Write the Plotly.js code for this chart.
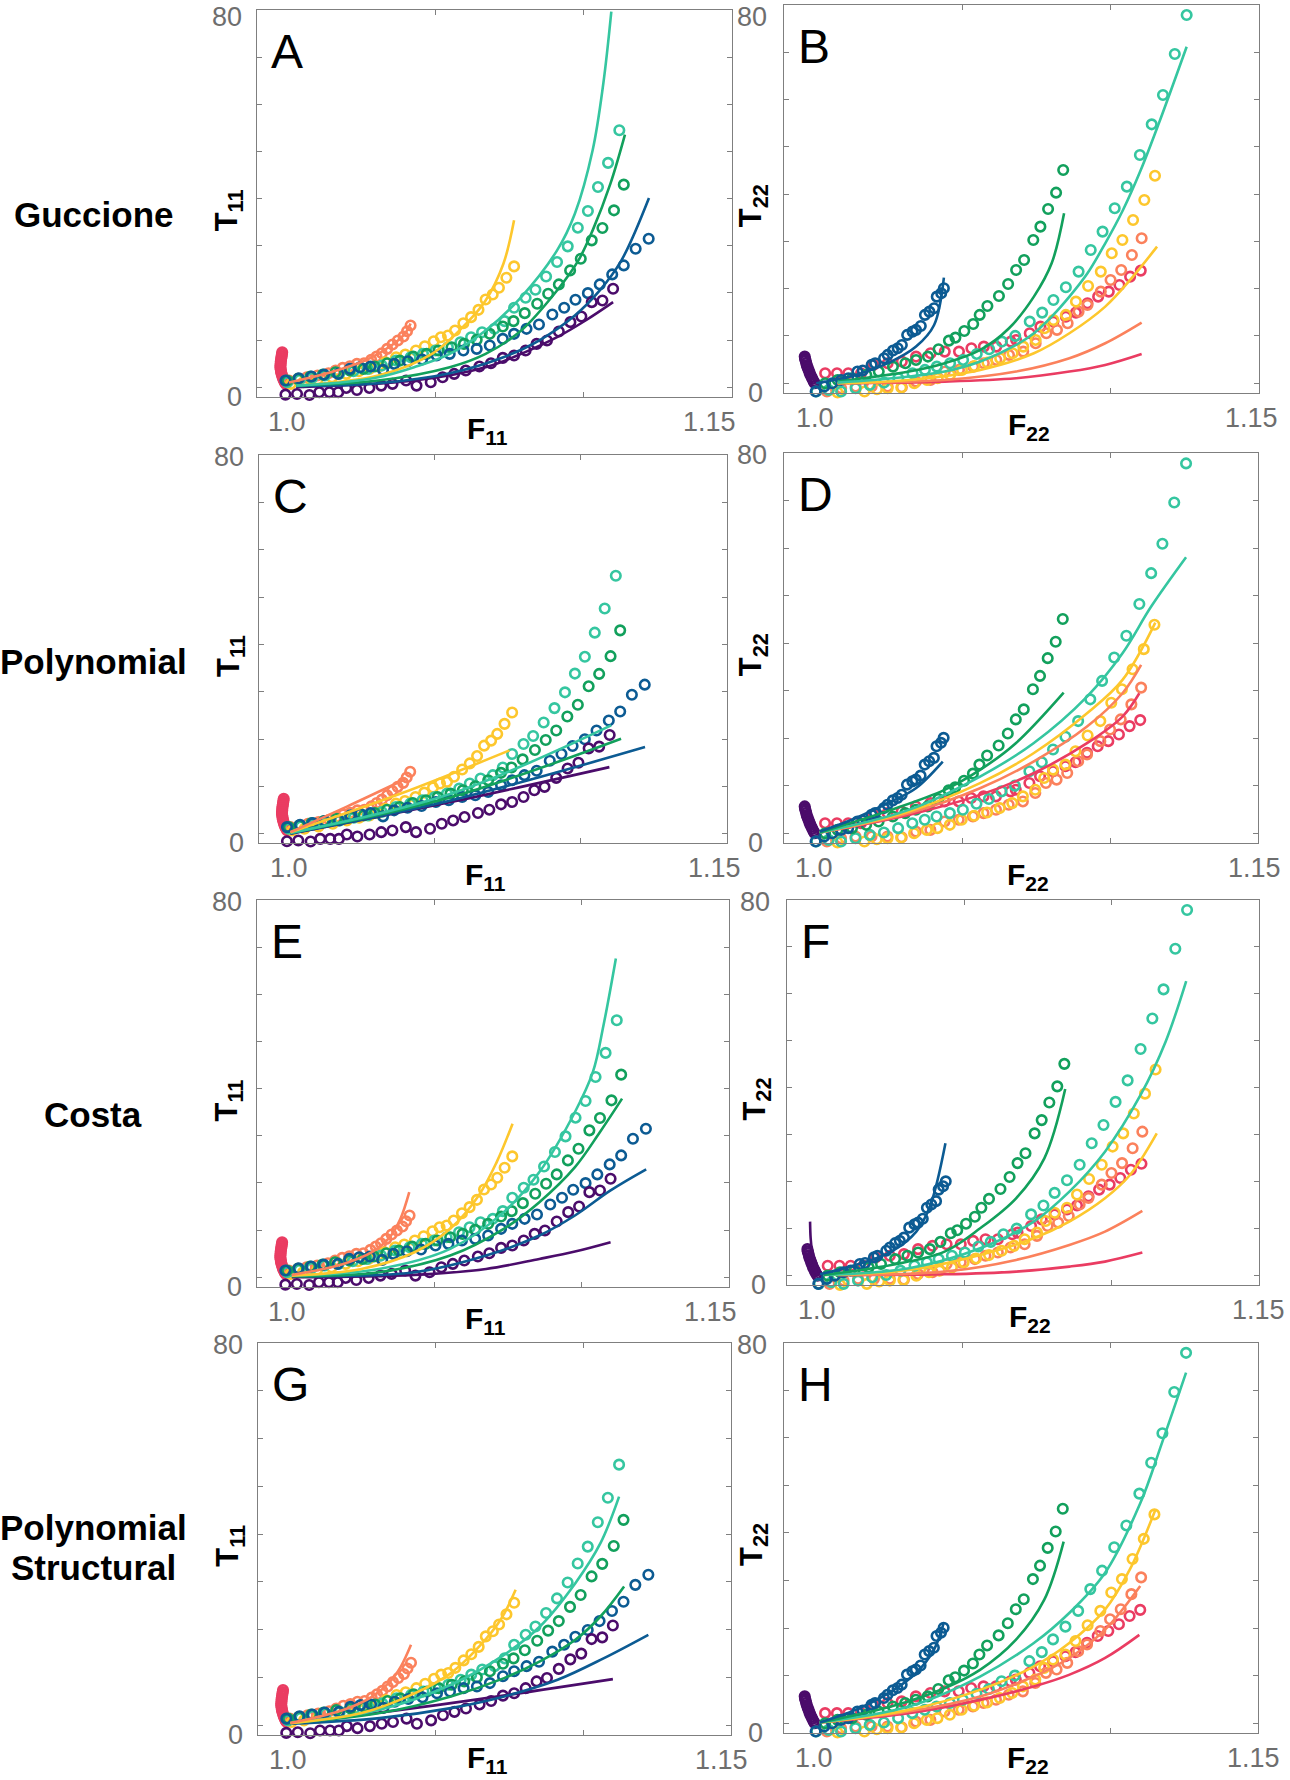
<!DOCTYPE html>
<html><head><meta charset="utf-8">
<script src="https://cdn.plot.ly/plotly-3.0.1.min.js"></script>
<style>html,body{margin:0;padding:0;background:#fff}#chart{width:1290px;height:1780px}</style>
</head><body><div id="chart"></div>
<script>
// ---------- colours ----------
const COL = {purple:'#4b0c6b', blue:'#0c5b93', green:'#12a05c', teal:'#35c6a0', yellow:'#fdc72d', salmon:'#fb815c', red:'#ea3c62'};

// ---------- experimental data, T11 vs F11 (same in A, C, E, G) ----------
const T11_red_F = [0.9983,0.9982,0.9981,0.998,0.9979,0.9978,0.9978,0.9977,0.9977,0.9978,0.9979,0.998,0.9982,0.9984,0.9986,0.9989,0.9992,0.9995];
const T11_red_T = [7.4,7.0,6.6,6.2,5.8,5.4,5.0,4.6,4.2,3.8,3.4,3.0,2.6,2.2,1.8,1.4,1.0,0.7];
const T11_salmon_F = [1.0006,1.0036,1.0066,1.0102,1.0139,1.0163,1.0187,1.0211,1.0235,1.0259,1.0283,1.0301,1.0319,1.0337,1.0355,1.0373,1.0392,1.0404,1.0416];
const T11_salmon_T = [1.42,1.77,2.12,2.48,2.97,3.54,4.11,4.46,4.96,5.10,5.81,6.51,7.22,8.14,9.06,9.91,10.76,11.89,13.10];
const T11_yellow_F = [1.0012,1.0054,1.0102,1.0151,1.0199,1.0241,1.0277,1.0307,1.0331,1.0367,1.0398,1.0434,1.0464,1.0494,1.0518,1.0542,1.0566,1.0594,1.062,1.0645,1.0669,1.0693,1.0714,1.0739,1.0765];
const T11_yellow_T = [0.71,1.06,1.56,2.12,2.83,3.40,3.89,4.39,5.31,6.37,6.94,7.79,8.71,9.77,10.62,10.97,12.04,13.59,14.87,16.42,18.62,19.68,21.10,23.22,25.63];
const T11_teal_F = [1.0,1.0042,1.0084,1.0127,1.0175,1.0223,1.0271,1.0319,1.0367,1.0416,1.0458,1.05,1.0542,1.0584,1.062,1.0657,1.0699,1.0733,1.0765,1.0804,1.0837,1.0873,1.091,1.0946,1.098,1.1014,1.1048,1.1082,1.112];
const T11_teal_T = [1.06,1.56,1.98,2.48,2.83,3.40,3.89,4.60,5.66,6.37,7.08,7.79,8.50,9.56,10.62,11.68,12.39,14.02,16.85,18.97,20.67,23.50,26.55,29.88,33.84,37.38,42.48,47.58,54.51];
const T11_green_F = [1.0,1.0036,1.0078,1.012,1.0163,1.0211,1.0257,1.0295,1.0337,1.038,1.0425,1.047,1.051,1.0554,1.0596,1.0639,1.0683,1.0727,1.0763,1.0801,1.0843,1.088,1.0916,1.0954,1.099,1.1027,1.1063,1.1102,1.1135];
const T11_green_T = [1.42,1.77,2.27,2.69,3.19,3.54,3.89,4.39,5.10,5.66,6.51,7.08,7.79,8.50,9.20,10.05,11.33,12.88,14.02,15.72,17.70,19.82,21.81,24.78,27.26,31.15,33.77,37.52,42.97];
const T11_blue_F = [0.9994,1.0039,1.0082,1.0124,1.0172,1.0211,1.0245,1.0281,1.0323,1.0361,1.0407,1.0455,1.0504,1.0548,1.0594,1.0639,1.0683,1.0727,1.0765,1.0807,1.0849,1.0894,1.0934,1.0972,1.1014,1.1054,1.1096,1.1135,1.1175,1.1219];
const T11_blue_T = [1.42,1.91,2.27,2.69,2.83,3.89,4.25,4.39,3.68,4.96,5.52,5.88,6.73,7.08,7.79,8.14,8.85,10.27,11.33,12.39,13.31,15.43,16.85,18.55,19.96,21.81,23.93,25.84,29.38,31.50];
const T11_purple_F = [0.9994,1.0033,1.0075,1.0108,1.0142,1.0172,1.0199,1.0235,1.0277,1.0317,1.0355,1.0401,1.0436,1.0484,1.0524,1.0563,1.0602,1.0648,1.0687,1.0727,1.0765,1.0804,1.0841,1.0876,1.0916,1.0955,1.0992,1.1027,1.1063,1.1099];
const T11_purple_T = [-1.56,-1.42,-1.63,-1.06,-1.06,-1.06,-0.14,-0.57,-0.14,0.35,0.71,1.42,0.35,1.06,2.12,2.83,3.54,4.39,5.10,6.23,6.73,7.79,9.20,9.91,11.82,13.81,15.01,18.05,18.41,20.88];

// ---------- experimental data, T22 vs F22 (same in B, D, F, H) ----------
const T22_purple_F = [0.9967,0.9968,0.997,0.9972,0.9974,0.9977,0.998,0.9983,0.9986,0.999,0.9993,0.9997,1.0001];
const T22_purple_T = [5.64,5.2,4.8,4.3,3.8,3.3,2.8,2.3,1.8,1.3,0.9,0.4,0.0];
const T22_red_F = [1.0036,1.0076,1.0114,1.0157,1.0199,1.0247,1.0295,1.0343,1.0392,1.044,1.0488,1.053,1.0572,1.0614,1.0663,1.0681,1.0727,1.0763,1.0807,1.0849,1.0883,1.0922,1.0958,1.0994,1.103,1.1066,1.1102];
const T22_red_T = [2.11,2.11,2.11,2.11,3.88,4.23,4.58,5.64,6.34,6.69,6.69,7.40,7.75,7.75,8.81,9.16,10.57,11.98,13.04,14.09,14.94,16.91,18.32,19.38,20.79,22.55,23.82];
const T22_salmon_F = [1.0042,1.009,1.0139,1.0193,1.0247,1.0295,1.0343,1.0392,1.044,1.0488,1.0536,1.0572,1.0614,1.0657,1.0705,1.0747,1.0783,1.0819,1.0855,1.0892,1.0922,1.0967,1.1,1.1036,1.1072,1.1105];
const T22_salmon_T = [-1.76,-1.06,-0.70,-0.70,-0.70,-0.85,0.35,0.70,2.47,2.82,3.52,4.23,4.93,5.99,6.69,8.46,10.57,11.28,12.68,15.15,16.56,19.38,21.85,23.96,27.13,30.66];
const T22_yellow_F = [1.0036,1.0078,1.0124,1.0169,1.0211,1.0247,1.0293,1.0337,1.038,1.0416,1.0458,1.0498,1.054,1.0584,1.0627,1.0669,1.0705,1.0747,1.0777,1.0807,1.0849,1.0883,1.0924,1.0967,1.1004,1.104,1.1076,1.1114,1.115];
const T22_yellow_T = [-2.11,-1.97,-2.11,-1.76,-1.27,-1.06,-0.92,0,0.70,1.06,1.76,2.82,3.66,4.37,5.29,6.34,7.75,9.16,11.63,13.39,14.45,17.27,20.58,23.61,27.48,30.30,34.53,38.76,43.90];
const T22_teal_F = [1.0006,1.0048,1.009,1.0139,1.0187,1.0235,1.0283,1.0331,1.0373,1.0413,1.0458,1.0502,1.0548,1.059,1.0633,1.0678,1.0727,1.0769,1.0807,1.0849,1.0892,1.0933,1.0973,1.1014,1.1055,1.1099,1.1139,1.1177,1.1217,1.1257];
const T22_teal_T = [-1.76,-1.41,-1.76,-1.06,-0.35,0.14,1.06,2.11,2.82,3.52,4.23,4.93,6.20,7.19,8.81,10.01,13.04,14.94,17.62,20.30,23.61,28.19,32.07,37.0,41.58,48.27,54.76,60.96,69.63,77.87];
const T22_green_F = [1.0036,1.0078,1.0127,1.0175,1.0217,1.0265,1.0307,1.0343,1.0383,1.0419,1.0454,1.0476,1.0506,1.0536,1.0558,1.0584,1.0623,1.0654,1.0681,1.0708,1.0739,1.0763,1.0789,1.0816,1.084];
const T22_green_T = [0,0.70,1.06,1.76,2.47,3.52,4.23,4.93,5.64,7.19,9.02,9.65,11.06,12.54,14.45,16.35,18.46,21.0,23.96,26.07,30.30,33.12,36.86,40.31,45.10];
const T22_blue_F = [1.0004,1.0033,1.006,1.009,1.0114,1.0145,1.0163,1.0193,1.0205,1.0235,1.0247,1.0265,1.0281,1.0295,1.0313,1.0331,1.0343,1.0359,1.0373,1.0388,1.0404,1.0413,1.0428,1.0437];
const T22_blue_T = [-1.76,-0.70,0,0.70,1.06,2.47,2.68,3.88,4.23,5.29,5.99,6.91,7.40,8.10,10.22,10.92,11.28,12.12,14.45,15.15,15.86,18.32,19.03,20.08];

// ---------- model curves ----------
// A: Guccione, T11
const A_salmon_F = [1.0006,1.0163,1.0283,1.0392,1.0416], A_salmon_T = [1.0,3.5,6.3,11.0,13.5];
const A_yellow_F = [1.003,1.0307,1.0488,1.0608,1.0669,1.0729,1.0765], A_yellow_T = [0.35,2.48,7.08,13.8,18.41,26.2,35.4];
const A_teal_F = [1.003,1.0187,1.0307,1.0428,1.0548,1.0669,1.0789,1.091,1.097,1.103,1.1066,1.1093], A_teal_T = [0.35,1.06,2.12,4.25,7.08,12.04,19.12,29.03,36.81,50.27,64.42,79.65];
const A_green_F = [1.003,1.0307,1.0548,1.0669,1.0789,1.091,1.0982,1.103,1.109,1.1139], A_green_T = [0.35,1.42,4.25,7.08,12.04,20.53,26.90,33.27,43.19,53.59];
const A_blue_F = [1.003,1.0307,1.0548,1.0729,1.0849,1.097,1.1054,1.1127,1.122], A_blue_T = [0.21,0.85,2.97,6.37,9.91,15.22,20.53,26.90,40.14];
const A_purple_F = [1.003,1.0428,1.0669,1.0789,1.091,1.1006,1.1099], A_purple_T = [0,1.42,4.25,7.08,10.62,14.16,18.05];
// B: Guccione, T22
const B_red_F = [1.0078,1.044,1.0681,1.0861,1.0982,1.1105], B_red_T = [0,0.35,1.06,2.47,3.88,6.20];
const B_salmon_F = [1.0078,1.044,1.0681,1.0861,1.0982,1.1105], B_salmon_T = [0,0.70,2.47,5.29,8.46,12.83];
const B_yellow_F = [1.0078,1.0319,1.056,1.0741,1.0861,1.0982,1.1066,1.1157], B_yellow_T = [0,0.7,2.82,6.34,10.57,16.21,21.85,28.89];
const B_teal_F = [1.0078,1.0199,1.0319,1.044,1.056,1.0681,1.0741,1.0801,1.0861,1.0922,1.0982,1.1042,1.1102,1.1163,1.1257], B_teal_T = [0.14,0.70,1.41,2.47,4.58,8.10,10.57,14.09,18.32,23.26,29.60,36.65,45.10,54.97,71.18];
const B_green_F = [1.0078,1.0319,1.044,1.056,1.0657,1.0741,1.0801,1.0843], B_green_T = [0.35,2.47,4.23,7.05,11.63,18.32,25.37,35.94];
const B_blue_F = [1.0006,1.0139,1.0259,1.0343,1.0404,1.0437], B_blue_T = [0,1.76,4.58,7.75,12.33,22.34];
// C: Polynomial, T11
const C_salmon_F = [1.0006,1.0201,1.0402], C_salmon_T = [0.35,5.8,11.63];
const C_yellow_F = [1.0006,1.0384,1.0756], C_yellow_T = [0.35,8.5,17.62];
const C_teal_F = [1.0006,1.0555,1.1104], C_teal_T = [0.2,8.46,22.9];
const C_green_F = [1.0006,1.0555,1.1138], C_green_T = [0.2,7.75,20.08];
const C_blue_F = [1.0006,1.0555,1.122], C_blue_T = [0.1,7.05,18.32];
const C_purple_F = [1.0006,1.0555,1.1098], C_purple_T = [0.0,6.7,14.09];
// D: Polynomial, T22
const D_red_F = [1.0018,1.0319,1.056,1.0741,1.0922,1.1042,1.1099], D_red_T = [0.14,3.86,8.07,12.63,18.95,24.56,29.47];
const D_salmon_F = [1.0018,1.0319,1.056,1.0741,1.0922,1.1042,1.1105], D_salmon_T = [0.14,4.21,9.47,15.09,22.46,29.47,35.44];
const D_yellow_F = [1.0018,1.0319,1.056,1.0741,1.0922,1.1042,1.1153], D_yellow_T = [0.14,4.56,10.53,16.84,25.26,32.28,44.35];
const D_teal_F = [1.0018,1.0319,1.056,1.0741,1.0922,1.1042,1.1139,1.1257], D_teal_T = [0.14,4.91,11.93,18.95,28.77,37.89,47.72,58.1];
const D_green_F = [1.0018,1.0259,1.044,1.056,1.0681,1.0843], D_green_T = [0.14,4.91,9.12,13.33,18.95,29.61];
const D_blue_F = [1.0018,1.0139,1.0259,1.0343,1.0434], D_blue_T = [0.35,3.16,6.67,9.47,15.09];
// E: Costa, T11
const E_salmon_F = [1.0016,1.0191,1.0288,1.0349,1.0385,1.0415], E_salmon_T = [0.50,2.83,5.31,8.50,12.39,18.05];
const E_yellow_F = [1.0016,1.0252,1.0433,1.0554,1.0651,1.0712,1.0766], E_yellow_T = [0.35,1.77,5.31,10.27,17.35,24.42,32.57];
const E_teal_F = [1.0016,1.0312,1.0554,1.0736,1.0857,1.0978,1.1039,1.1075,1.1117], E_teal_T = [0.35,1.77,6.02,13.81,22.30,35.04,43.54,53.45,67.61];
const E_green_F = [1.0016,1.0312,1.0554,1.0736,1.0857,1.0978,1.1063,1.1138], E_green_T = [0.21,1.06,4.60,10.27,15.93,23.36,30.80,37.88];
const E_blue_F = [1.0016,1.0433,1.0676,1.0857,1.0978,1.1099,1.122], E_blue_T = [0.21,1.06,4.60,8.85,13.10,18.41,22.87];
const E_purple_F = [1.0016,1.0433,1.0676,1.0857,1.0978,1.1099], E_purple_T = [0,0.5,1.77,3.89,5.45,7.43];
// F: Costa, T22
const F_purple_F = [0.9976,0.9978,0.9983,0.9992,1.0], F_purple_T = [11.5,7.95,5.11,2.27,0.14];
const F_red_F = [1.007,1.0433,1.0676,1.0857,1.0978,1.1105], F_red_T = [0.14,0.28,0.85,1.92,2.98,4.90];
const F_salmon_F = [1.007,1.0433,1.0676,1.0857,1.0978,1.1105], F_salmon_T = [0.14,0.85,3.34,6.53,9.37,13.77];
const F_yellow_F = [1.0022,1.0312,1.0554,1.0736,1.0857,1.0978,1.1063,1.1154], F_yellow_T = [0.14,1.21,4.40,7.95,11.50,16.47,21.43,30.30];
const F_teal_F = [1.0022,1.0312,1.0554,1.0736,1.0857,1.0978,1.1099,1.1184,1.1254], F_teal_T = [0.14,1.56,5.82,11.50,17.89,26.40,38.47,49.82,62.74];
const F_green_F = [1.0022,1.0252,1.0433,1.0554,1.0676,1.0772,1.0843], F_green_T = [0.14,2.27,5.11,10.08,16.47,24.98,39.74];
const F_blue_F = [1.001,1.0131,1.0252,1.0337,1.0385,1.0436], F_blue_T = [0.28,2.27,5.11,9.37,15.05,28.18];
// G: Polynomial Structural, T11
const G_salmon_F = [1.0008,1.0189,1.0286,1.0346,1.0382,1.0416], G_salmon_T = [0.49,3.27,6.06,9.19,12.33,16.85];
const G_yellow_F = [1.0008,1.0249,1.043,1.0551,1.0647,1.0719,1.077], G_yellow_T = [0.49,2.58,6.75,10.93,16.50,22.08,28.34];
const G_teal_F = [1.0008,1.031,1.0551,1.0731,1.0852,1.0972,1.1057,1.112], G_teal_T = [0.49,3.27,8.50,14.76,20.68,29.74,38.09,47.84];
const G_green_F = [1.0008,1.031,1.0551,1.0731,1.0852,1.0972,1.1057,1.1137], G_green_T = [0.49,2.58,6.06,9.89,13.37,17.90,22.77,29.04];
const G_blue_F = [1.0008,1.031,1.0551,1.0731,1.0912,1.1069,1.1219], G_blue_T = [0.35,1.53,3.62,6.06,9.54,14.07,18.94];
const G_purple_F = [1.0008,1.0551,1.1099], G_purple_T = [0.35,4.67,9.68];
// H: Polynomial Structural, T22
const H_red_F = [1.0018,1.0319,1.056,1.0741,1.0861,1.0982,1.1099], H_red_T = [0.14,2.10,4.90,7.71,10.16,13.66,18.56];
const H_salmon_F = [1.0018,1.0319,1.056,1.0741,1.0861,1.0982,1.1102], H_salmon_T = [0.14,2.45,5.60,9.81,13.66,19.61,28.86];
const H_yellow_F = [1.0018,1.0319,1.056,1.0741,1.0861,1.0982,1.1066,1.1153], H_yellow_T = [0.14,2.80,7.01,11.91,16.81,23.82,32.22,44.83];
const H_teal_F = [1.0018,1.0319,1.056,1.0741,1.0861,1.0982,1.1102,1.1175,1.1257], H_teal_T = [0.14,3.50,9.81,16.81,23.12,31.52,46.23,58.84,73.70];
const H_green_F = [1.0018,1.0259,1.044,1.056,1.0681,1.0777,1.0843], H_green_T = [0.14,3.50,7.36,11.21,17.51,25.92,38.18];
const H_blue_F = [1.0018,1.0139,1.0259,1.0343,1.0404,1.0437], H_blue_T = [0.14,2.80,6.65,10.51,15.41,21.02];

// ---------- labels ----------
const panelLetters = ['A','B','C','D','E','F','G','H'];
const rowLabels = [['Guccione'],['Polynomial'],['Costa'],['Polynomial','Structural']];
const yTickLabels = ['0','80'];
const xTickLabels = ['1.0','1.15'];

// ---------- assemble ----------
const expT11 = [['red',T11_red_F,T11_red_T],['salmon',T11_salmon_F,T11_salmon_T],['yellow',T11_yellow_F,T11_yellow_T],['teal',T11_teal_F,T11_teal_T],['green',T11_green_F,T11_green_T],['blue',T11_blue_F,T11_blue_T],['purple',T11_purple_F,T11_purple_T]];
const expT22 = [['purple',T22_purple_F,T22_purple_T],['red',T22_red_F,T22_red_T],['salmon',T22_salmon_F,T22_salmon_T],['yellow',T22_yellow_F,T22_yellow_T],['teal',T22_teal_F,T22_teal_T],['green',T22_green_F,T22_green_T],['blue',T22_blue_F,T22_blue_T]];
const models = [
  [['salmon',A_salmon_F,A_salmon_T],['yellow',A_yellow_F,A_yellow_T],['purple',A_purple_F,A_purple_T],['blue',A_blue_F,A_blue_T],['green',A_green_F,A_green_T],['teal',A_teal_F,A_teal_T]],
  [['red',B_red_F,B_red_T],['salmon',B_salmon_F,B_salmon_T],['yellow',B_yellow_F,B_yellow_T],['blue',B_blue_F,B_blue_T],['green',B_green_F,B_green_T],['teal',B_teal_F,B_teal_T]],
  [['purple',C_purple_F,C_purple_T],['blue',C_blue_F,C_blue_T],['green',C_green_F,C_green_T],['teal',C_teal_F,C_teal_T],['yellow',C_yellow_F,C_yellow_T],['salmon',C_salmon_F,C_salmon_T]],
  [['red',D_red_F,D_red_T],['salmon',D_salmon_F,D_salmon_T],['yellow',D_yellow_F,D_yellow_T],['teal',D_teal_F,D_teal_T],['green',D_green_F,D_green_T],['blue',D_blue_F,D_blue_T]],
  [['purple',E_purple_F,E_purple_T],['blue',E_blue_F,E_blue_T],['green',E_green_F,E_green_T],['teal',E_teal_F,E_teal_T],['yellow',E_yellow_F,E_yellow_T],['salmon',E_salmon_F,E_salmon_T]],
  [['purple',F_purple_F,F_purple_T],['red',F_red_F,F_red_T],['salmon',F_salmon_F,F_salmon_T],['yellow',F_yellow_F,F_yellow_T],['teal',F_teal_F,F_teal_T],['green',F_green_F,F_green_T],['blue',F_blue_F,F_blue_T]],
  [['purple',G_purple_F,G_purple_T],['blue',G_blue_F,G_blue_T],['green',G_green_F,G_green_T],['teal',G_teal_F,G_teal_T],['yellow',G_yellow_F,G_yellow_T],['salmon',G_salmon_F,G_salmon_T]],
  [['red',H_red_F,H_red_T],['salmon',H_salmon_F,H_salmon_T],['yellow',H_yellow_F,H_yellow_T],['teal',H_teal_F,H_teal_T],['green',H_green_F,H_green_T],['blue',H_blue_F,H_blue_T]]
];

// panel frames in page pixels: [left, right, top, bottom]
const W = 1290, H = 1780;
const boxes = [[257,732,10,396.7],[784.3,1258.6,5,392.7],[258.9,726.8,455,843.3],[784.3,1257.9,453.3,842.7],
               [257.1,728.6,900,1286.7],[787.1,1258.6,900,1285],[257.9,731.4,1342.7,1735],[784.3,1257.9,1342.7,1732.7]];
const x115shift = [6,21,16,25,10,28,19,24];

const FONT = 'Liberation Sans, Arial, sans-serif';
const GRAY = '#6e6e6e', FRAME = '#7f7f7f';
const traces = [];
const layout = {width:W, height:H, margin:{l:0,r:0,t:0,b:0}, paper_bgcolor:'#fff', plot_bgcolor:'#fff', showlegend:false, annotations:[]};

for (let i = 0; i < 8; i++) {
  const n = i + 1, sx = n === 1 ? '' : String(n);
  const xa = 'x' + sx, ya = 'y' + sx;
  const col = i % 2, row = Math.floor(i / 2);
  const [l, r, t, b] = boxes[i];
  const common = {showgrid:false, zeroline:false, showline:true, linecolor:FRAME, linewidth:1, mirror:'ticks',
                  ticks:'inside', ticklen:5, tickcolor:FRAME, tickwidth:1, showticklabels:false, fixedrange:true};
  layout['xaxis' + sx] = Object.assign({}, common, {domain:[l / W, r / W], range:[0.9898, 1.15], tickvals:[1.05, 1.10], anchor:ya});
  layout['yaxis' + sx] = Object.assign({}, common, {domain:[1 - b / H, 1 - t / H], range:[-2, 80], tickvals:[0,10,20,30,40,50,60,70], anchor:xa});

  const exp = col === 0 ? expT11 : expT22;
  exp.forEach(([c, F, T]) => traces.push({x:F, y:T, xaxis:xa, yaxis:ya, type:'scatter', mode:'markers', hoverinfo:'skip', cliponaxis:false,
    marker:{symbol:'circle-open', size:9.5, color:COL[c], line:{width:2.6, color:COL[c]}}}));
  models[i].forEach(([c, F, T]) => traces.push({x:F, y:T, xaxis:xa, yaxis:ya, type:'scatter', mode:'lines', hoverinfo:'skip',
    line:{color:COL[c], width:2.6, shape:'spline', smoothing:1.0}}));

  const xd = xa + ' domain', yd = ya + ' domain';
  const tf = {family:FONT, size:27, color:GRAY};
  if (row === 0) {
    layout.annotations.push({xref:xd, yref:'paper', x:0, y:1, xanchor:'right', yanchor:'top', xshift: col ? -15 : -13, yshift:0, text:yTickLabels[1], showarrow:false, font:tf});
  } else {
    layout.annotations.push({xref:xd, yref:yd, x:0, y:1, xanchor:'right', yanchor:'middle', xshift: col ? -15 : -13, yshift:-2, text:yTickLabels[1], showarrow:false, font:tf});
  }
  layout.annotations.push({xref:xd, yref:yd, x:0, y:0, xanchor:'right', yanchor:'middle', xshift: col ? -19 : -13, yshift:0, text:yTickLabels[0], showarrow:false, font:tf});
  layout.annotations.push({xref:xa, yref:yd, x:1.0, y:0, xanchor:'center', yanchor:'top', yshift:-8, text:xTickLabels[0], showarrow:false, font:tf});
  layout.annotations.push({xref:xd, yref:yd, x:1, y:0, xanchor:'right', yanchor:'top', xshift:x115shift[i], yshift:-8, text:xTickLabels[1], showarrow:false, font:tf});
  // panel letter
  layout.annotations.push({xref:xd, yref:yd, x:0, y:1, xanchor:'left', yanchor:'top', xshift:12, yshift:-13, text:panelLetters[i], showarrow:false, font:{family:FONT, size:48, color:'#000'}});
  // axis titles
  const sub = col === 0 ? '11' : '22';
  layout.annotations.push({xref:xd, yref:yd, x:0, y:0.5, xanchor:'center', yanchor:'middle', xshift: col ? -31 : -28, yshift:-7, textangle:-90,
    text:'<b>T<sub>' + sub + '</sub></b>', showarrow:false, font:{family:FONT, size:31, color:'#000'}});
  if (row === 3) {
    layout.annotations.push({xref:xd, yref:'paper', x: col ? 0.515 : 0.485, y:0, xanchor:'center', yanchor:'bottom', yshift:0,
      text:'<b>F<sub>' + sub + '</sub></b>', showarrow:false, font:{family:FONT, size:30, color:'#000'}});
  } else {
    layout.annotations.push({xref:xd, yref:yd, x: col ? 0.515 : 0.485, y:0, xanchor:'center', yanchor:'top', yshift:-13,
      text:'<b>F<sub>' + sub + '</sub></b>', showarrow:false, font:{family:FONT, size:30, color:'#000'}});
  }
}

// row labels
const rowCentersPx = [[214],[661],[1114],[1527,1567]];
rowLabels.forEach((lines, r) => lines.forEach((txt, k) => {
  layout.annotations.push({xref:'paper', yref:'paper', x:93 / W, y:1 - rowCentersPx[r][k] / H, xanchor:'center', yanchor:'middle',
    text:'<b>' + txt + '</b>', showarrow:false, font:{family:FONT, size:35, color:'#000'}});
}));

Plotly.newPlot('chart', traces, layout, {staticPlot:true, displayModeBar:false});
</script>
</body></html>
